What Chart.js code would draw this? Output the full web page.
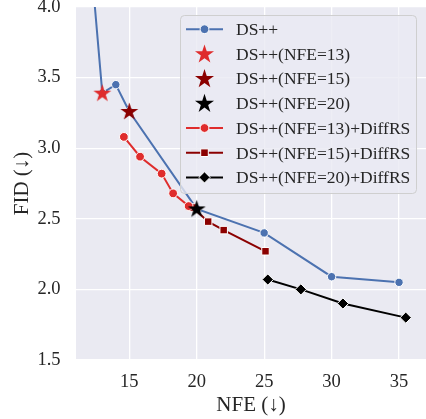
<!DOCTYPE html>
<html><head><meta charset="utf-8">
<script src="https://cdn.jsdelivr.net/npm/chart.js@4"></script>
<style>html,body{margin:0;padding:0;background:#fff}</style>
</head><body>
<canvas id="c" width="426" height="419" style="display:block"></canvas>
<script>
// ---- data ----
const dsppNFE = [12, 13, 14, 15, 20, 25, 30, 35];
const dsppFID = [4.5, 3.39, 3.45, 3.26, 2.57, 2.40, 2.09, 2.05];
const star13 = {x: 13, y: 3.39};
const star15 = {x: 15, y: 3.26};
const star20 = {x: 20, y: 2.57};
const rs13NFE = [14.6, 15.8, 17.4, 18.25, 19.4];
const rs13FID = [3.08, 2.94, 2.82, 2.68, 2.59];
const rs15NFE = [19.7, 20.85, 22.0, 25.1];
const rs15FID = [2.58, 2.48, 2.42, 2.27];
const rs20NFE = [25.27, 27.72, 30.84, 35.5];
const rs20FID = [2.07, 2.00, 1.90, 1.80];
const xTicks = [15, 20, 25, 30, 35];
const yTicks = [1.5, 2.0, 2.5, 3.0, 3.5, 4.0];
const labels = ['DS++', 'DS++(NFE=13)', 'DS++(NFE=15)', 'DS++(NFE=20)',
  'DS++(NFE=13)+DiffRS', 'DS++(NFE=15)+DiffRS', 'DS++(NFE=20)+DiffRS'];

const BLUE = '#4C72B0', RED = '#DF2C2C', DRED = '#8B0000', BLACK = '#000000';
const FONT = "'Liberation Serif', 'Times New Roman', serif";
const TXT = '#262626';

function pts(xs, ys) { return xs.map((x, i) => ({x, y: ys[i]})); }

function starPath(ctx, cx, cy, R) {
  const r = R * 0.382;
  ctx.beginPath();
  for (let i = 0; i < 10; i++) {
    const rad = (i % 2 === 0) ? R : r;
    const a = -Math.PI / 2 + i * Math.PI / 5;
    const px = cx + rad * Math.cos(a), py = cy + rad * Math.sin(a);
    if (i === 0) ctx.moveTo(px, py); else ctx.lineTo(px, py);
  }
  ctx.closePath();
}
function makeStar(color, R) {
  const c = document.createElement('canvas');
  const s = Math.ceil(2 * R + 2);
  c.width = s; c.height = s;
  const g = c.getContext('2d');
  starPath(g, s / 2, s / 2 + R * 0.05, R);
  g.fillStyle = color; g.fill();
  return c;
}

const bgPlugin = {
  id: 'bg',
  beforeDraw(chart) {
    const {ctx, chartArea: a} = chart;
    ctx.save();
    ctx.fillStyle = '#EAEAF2';
    ctx.fillRect(a.left, a.top, a.right - a.left, a.bottom - a.top);
    ctx.restore();
  }
};

function drawMarker(ctx, kind, color, x, y) {
  ctx.save();
  ctx.fillStyle = color; ctx.strokeStyle = '#fff'; ctx.lineWidth = 1;
  if (kind === 'circle') {
    ctx.beginPath(); ctx.arc(x, y, 4.4, 0, Math.PI * 2); ctx.fill(); ctx.stroke();
  } else if (kind === 'rect') {
    ctx.beginPath(); ctx.rect(x - 3.8, y - 3.8, 7.6, 7.6); ctx.fill(); ctx.stroke();
  } else if (kind === 'diamond') {
    const r = 5.6;
    ctx.beginPath(); ctx.moveTo(x, y - r); ctx.lineTo(x + r, y); ctx.lineTo(x, y + r); ctx.lineTo(x - r, y); ctx.closePath();
    ctx.fill(); ctx.stroke();
  } else if (kind === 'star') {
    starPath(ctx, x, y + 0.5, 10); ctx.fill();
  }
  ctx.restore();
}

const legendItems = [
  {line: true, kind: 'circle', color: BLUE},
  {line: false, kind: 'star', color: RED},
  {line: false, kind: 'star', color: DRED},
  {line: false, kind: 'star', color: BLACK},
  {line: true, kind: 'circle', color: RED},
  {line: true, kind: 'rect', color: DRED},
  {line: true, kind: 'diamond', color: BLACK}
];

const legendPlugin = {
  id: 'lg',
  afterDraw(chart) {
    const ctx = chart.ctx;
    ctx.save();
    ctx.beginPath();
    ctx.roundRect(180.5, 15.5, 236, 178, 4);
    ctx.fillStyle = 'rgba(234,234,242,0.8)';
    ctx.fill();
    ctx.strokeStyle = '#cfcfcf'; ctx.lineWidth = 1;
    ctx.stroke();
    ctx.font = '17.5px ' + FONT;
    ctx.textBaseline = 'alphabetic';
    ctx.textAlign = 'left';
    const y0 = 29.2, dy = 24.7;
    legendItems.forEach((it, i) => {
      const y = y0 + i * dy;
      if (it.line) {
        ctx.strokeStyle = it.color; ctx.lineWidth = 2;
        ctx.beginPath(); ctx.moveTo(186, y); ctx.lineTo(223, y); ctx.stroke();
      }
      drawMarker(ctx, it.kind, it.color, 204.5, y);
      ctx.fillStyle = TXT;
      ctx.fillText(labels[i], 236, y + 5.8);
    });
    ctx.restore();
  }
};

const lineDs = (label, data, color, style, radius, order) => ({
  label, data, showLine: true, borderColor: color, borderWidth: 2,
  pointStyle: style, pointRadius: radius, pointBackgroundColor: color,
  pointBorderColor: '#ffffff', pointBorderWidth: 1, order, tension: 0
});
const starDs = (label, p, color) => ({
  label, data: [p], showLine: false, pointStyle: makeStar(color, 9.4),
  pointRadius: 10, order: 0
});

new Chart(document.getElementById('c'), {
  type: 'scatter',
  data: {
    datasets: [
      lineDs(labels[0], pts(dsppNFE, dsppFID), BLUE, 'circle', 4.2, 3),
      starDs(labels[1], star13, RED),
      starDs(labels[2], star15, DRED),
      starDs(labels[3], star20, BLACK),
      lineDs(labels[4], pts(rs13NFE, rs13FID), RED, 'circle', 4.4, 2),
      lineDs(labels[5], pts(rs15NFE, rs15FID), DRED, 'rect', 5.3, 2),
      lineDs(labels[6], pts(rs20NFE, rs20FID), BLACK, 'rectRot', 5.6, 2)
    ]
  },
  options: {
    responsive: false,
    animation: false,
    devicePixelRatio: 1,
    layout: {autoPadding: false, padding: {top: 7, right: 0, bottom: 0, left: 0}},
    plugins: {legend: {display: false}, tooltip: {enabled: false}},
    scales: {
      x: {
        type: 'linear', min: 11.05, max: 37,
        afterBuildTicks: s => { s.ticks = xTicks.map(v => ({value: v})); },
        afterFit: s => { s.height = 59; s.paddingLeft = 0; s.paddingRight = 0; },
        grid: {color: '#ffffff', lineWidth: 1.3, drawTicks: false},
        border: {display: false},
        ticks: {padding: 11.5, color: TXT, font: {family: FONT, size: 18.5}},
        title: {display: true, text: 'NFE (↓)', color: TXT,
          font: {family: FONT, size: 21}, padding: {top: 0, bottom: 0.5}}
      },
      y: {
        type: 'linear', min: 1.5, max: 4.0,
        afterBuildTicks: s => { s.ticks = yTicks.map(v => ({value: v})); },
        afterFit: s => { s.width = 76; s.paddingTop = 0; s.paddingBottom = 0; },
        grid: {color: '#ffffff', lineWidth: 1.3, drawTicks: false},
        border: {display: false},
        ticks: {padding: 15.5, color: TXT, font: {family: FONT, size: 18.5},
          callback: v => v.toFixed(1)},
        title: {display: true, text: 'FID (↓)', color: TXT,
          font: {family: FONT, size: 21}, padding: {top: 10, bottom: 0}}
      }
    }
  },
  plugins: [bgPlugin, legendPlugin]
});
</script>
</body></html>
